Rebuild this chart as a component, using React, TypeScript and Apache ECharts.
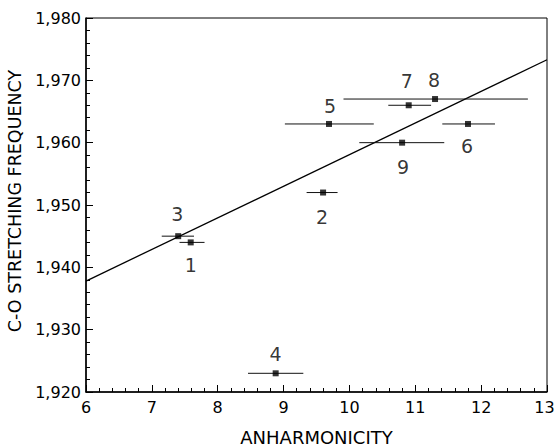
import React, { useEffect, useRef } from "react";
import * as echarts from "echarts";

// Data
const POINT_LABELS = ["1", "2", "3", "4", "5", "6", "7", "8", "9"];
const ANHARMONICITY = [7.59, 9.6, 7.4, 8.88, 9.69, 11.8, 10.9, 11.3, 10.8];
const FREQUENCY = [1944, 1952, 1945, 1923, 1963, 1963, 1966, 1967, 1960];
const ERR_LOW = [7.42, 9.35, 7.15, 8.46, 9.02, 11.41, 10.59, 9.91, 10.15];
const ERR_HIGH = [7.8, 9.82, 7.64, 9.3, 10.37, 12.21, 11.24, 12.71, 11.44];
const FIT_X = [6, 13];
const FIT_Y = [1937.8, 1973.3];
const X_TICKS = [6, 7, 8, 9, 10, 11, 12, 13];
const Y_TICKS = [1920, 1930, 1940, 1950, 1960, 1970, 1980];

// Label placement (layout only): offset of label centre from point, px
const LABEL_OFFSETS: Record<string, [number, number]> = {
  "1": [0, 23],
  "2": [-1, 24],
  "3": [-1, -22],
  "4": [0, -19],
  "5": [1, -18],
  "6": [-1, 22],
  "7": [-2, -24],
  "8": [-1, -19],
  "9": [1, 24],
};

const FONT = "DejaVu Sans";

export default function App() {
  const ref = useRef<HTMLDivElement>(null);
  useEffect(() => {
    if (!ref.current) return;
    const chart = echarts.init(ref.current, undefined, { renderer: "svg" });
    const pts = POINT_LABELS.map((l, i) => ({
      value: [ANHARMONICITY[i], FREQUENCY[i]],
      name: l,
      label: {
        show: true,
        position: "inside",
        offset: LABEL_OFFSETS[l],
        formatter: l,
        fontFamily: FONT,
        fontSize: 19,
        color: "#000",
      },
    }));
    const errData = POINT_LABELS.map((_, i) => [ERR_LOW[i], ERR_HIGH[i], FREQUENCY[i]]);
    const xMax = X_TICKS[X_TICKS.length - 1];
    chart.setOption({
      animation: false,
      backgroundColor: "#fff",
      grid: {
        left: 86,
        right: 8,
        top: 18,
        bottom: 55,
        outerBoundsMode: "none",
        containLabel: false,
        show: true,
        borderColor: "#000",
        borderWidth: 1,
        backgroundColor: "transparent",
      },
      xAxis: {
        type: "value",
        min: X_TICKS[0],
        max: xMax,
        interval: 1,
        name: "ANHARMONICITY",
        nameLocation: "middle",
        nameGap: 36,
        nameTextStyle: { fontFamily: FONT, fontSize: 18, color: "#000" },
        axisLine: { show: true, lineStyle: { color: "#000", width: 1.5 } },
        axisTick: { show: true, inside: true, length: 7, lineStyle: { color: "#000", width: 1 } },
        minorTick: { show: true, splitNumber: 5, length: 4, lineStyle: { color: "#000", width: 1 } },
        axisLabel: {
          fontFamily: FONT,
          fontSize: 16,
          color: "#000",
          margin: 7,
          formatter: (v: number) => (v === xMax ? `{e|${v}}` : String(v)),
          rich: {
            e: { fontFamily: FONT, fontSize: 16, color: "#000", padding: [0, 5, 0, 0] },
          },
        },
        splitLine: { show: false },
      },
      yAxis: {
        type: "value",
        min: Y_TICKS[0],
        max: Y_TICKS[Y_TICKS.length - 1],
        interval: 10,
        name: "C-O STRETCHING FREQUENCY",
        nameLocation: "middle",
        nameGap: 49,
        nameRotate: 90,
        nameTextStyle: { fontFamily: FONT, fontSize: 17.5, color: "#000", padding: [0, 0, 0, 8] },
        axisLine: { show: true, lineStyle: { color: "#000", width: 1.5 } },
        axisTick: { show: true, inside: true, length: 7, lineStyle: { color: "#000", width: 1 } },
        minorTick: { show: true, splitNumber: 5, length: 4, lineStyle: { color: "#000", width: 1 } },
        axisLabel: {
          fontFamily: FONT,
          fontSize: 16,
          color: "#000",
          margin: 5,
          formatter: (v: number) => v.toLocaleString("en-US"),
        },
        splitLine: { show: false },
      },
      series: [
        {
          type: "line",
          data: FIT_X.map((x, i) => [x, FIT_Y[i]]),
          symbol: "none",
          lineStyle: { color: "#000", width: 1.3 },
          silent: true,
          z: 2,
        },
        {
          type: "custom",
          data: errData,
          encode: { x: [0, 1], y: 2 },
          renderItem: (_params: any, api: any) => {
            const p1 = api.coord([api.value(0), api.value(2)]);
            const p2 = api.coord([api.value(1), api.value(2)]);
            return {
              type: "line",
              shape: { x1: p1[0], y1: p1[1], x2: p2[0], y2: p2[1] },
              style: { stroke: "#111", lineWidth: 1 },
            };
          },
          z: 3,
        },
        {
          type: "scatter",
          data: pts,
          symbol: "rect",
          symbolSize: 6,
          itemStyle: { color: "#000" },
          z: 4,
        },
      ],
    });
    return () => chart.dispose();
  }, []);
  return <div ref={ref} style={{ width: 555, height: 447, position: "absolute", left: 0, top: 0 }} />;
}
